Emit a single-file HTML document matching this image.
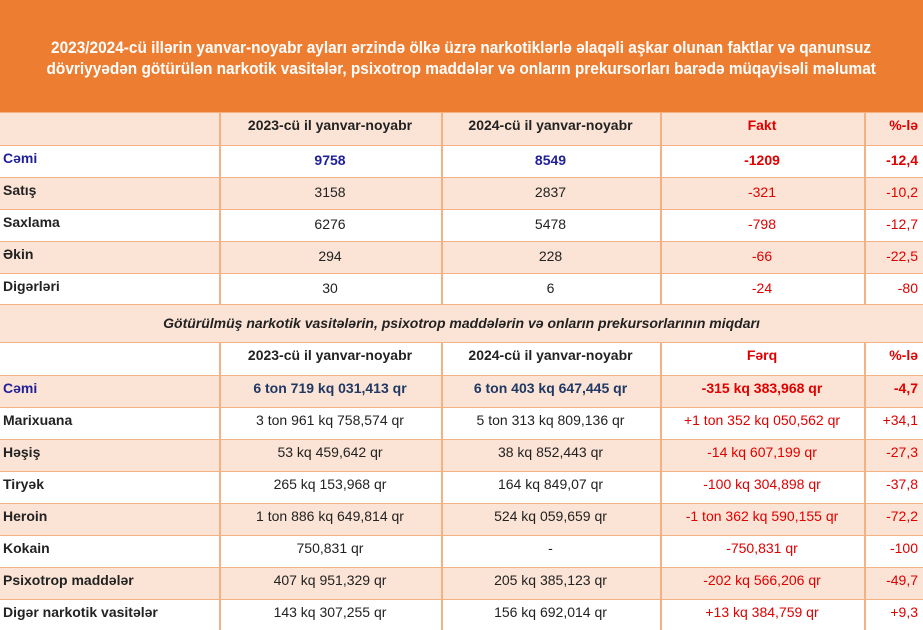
<!DOCTYPE html>
<html><head><meta charset="utf-8"><style>
body{margin:0;width:923px;height:630px;overflow:hidden;background:#fff;font-family:"Liberation Sans",Arial,sans-serif;position:relative}
.top{position:absolute;left:0;top:0;width:923px;height:112px;background:#ed7d31}
.title{position:absolute;left:0;top:37px;width:923px;text-align:center;color:#fff;font-weight:bold;font-size:17px;line-height:21px}
.title span{display:inline-block;transform:scaleX(0.905);white-space:nowrap}
.row{position:absolute;left:0;width:923px;border-top:1.5px solid #f4b183;box-sizing:border-box}
.pe{background:#fbe4d5}
.c{position:absolute;top:0;height:100%;font-size:14px;color:#222;white-space:nowrap;box-sizing:border-box}
.vl{position:absolute;top:0;width:1.5px;background:#f4b183}
.b{font-weight:bold}
.red{color:#e00000}
.blue{color:#1f1f9a}
.navy{color:#1f3864}
</style></head><body>
<div class="top"></div>
<div class="title"><span>2023/2024-cü illərin yanvar-noyabr ayları ərzində ölkə üzrə narkotiklərlə əlaqəli aşkar olunan faktlar və qanunsuz</span><br><span>dövriyyədən götürülən narkotik vasitələr, psixotrop maddələr və onların prekursorları barədə müqayisəli məlumat</span></div>
<div id="t"></div>
<script>
const rows=[
[112,33,1,["",""],["2023-cü il yanvar-noyabr","b"],["2024-cü il yanvar-noyabr","b"],["Fakt","b red"],["%-lə","b red"],4],
[145,32,0,["Cəmi","b blue"],["9758","b blue"],["8549","b blue"],["-1209","b red"],["-12,4","b red"],6],
[177,32,1,["Satış","b"],["3158",""],["2837",""],["-321","red"],["-10,2","red"],6],
[209,32,0,["Saxlama","b"],["6276",""],["5478",""],["-798","red"],["-12,7","red"],6],
[241,32,1,["Əkin","b"],["294",""],["228",""],["-66","red"],["-22,5","red"],6],
[273,31,0,["Digərləri","b"],["30",""],["6",""],["-24","red"],["-80","red"],6],
[342,33,0,["",""],["2023-cü il yanvar-noyabr","b"],["2024-cü il yanvar-noyabr","b"],["Fərq","b red"],["%-lə","b red"],4],
[375,32,1,["Cəmi","b blue"],["6 ton 719 kq 031,413 qr","b navy"],["6 ton 403 kq 647,445 qr","b navy"],["-315 kq 383,968 qr","b red"],["-4,7","b red"],4],
[407,32,0,["Marixuana","b"],["3 ton 961 kq 758,574 qr",""],["5 ton 313 kq 809,136 qr",""],["+1 ton 352 kq 050,562 qr","red"],["+34,1","red"],4],
[439,32,1,["Həşiş","b"],["53 kq 459,642 qr",""],["38 kq 852,443 qr",""],["-14 kq 607,199 qr","red"],["-27,3","red"],4],
[471,32,0,["Tiryək","b"],["265 kq 153,968 qr",""],["164 kq 849,07 qr",""],["-100 kq 304,898 qr","red"],["-37,8","red"],4],
[503,32,1,["Heroin","b"],["1 ton 886 kq 649,814 qr",""],["524 kq 059,659 qr",""],["-1 ton 362 kq 590,155 qr","red"],["-72,2","red"],4],
[535,32,0,["Kokain","b"],["750,831 qr",""],["-",""],["-750,831 qr","red"],["-100","red"],4],
[567,32,1,["Psixotrop maddələr","b"],["407 kq 951,329 qr",""],["205 kq 385,123 qr",""],["-202 kq 566,206 qr","red"],["-49,7","red"],4],
[599,31,0,["Digər narkotik vasitələr","b"],["143 kq 307,255 qr",""],["156 kq 692,014 qr",""],["+13 kq 384,759 qr","red"],["+9,3","red"],4]];
let h="";
const cols=[[0,219,"left"],[219,222,"center"],[441,219,"center"],[660,204,"center"],[864,59,"right"]];
for(const r of rows){
 h+=`<div class="row ${r[2]?'pe':''}" style="top:${r[0]}px;height:${r[1]}px">`;
 for(let i=0;i<5;i++){const [x,w,a]=cols[i];const d=r[3+i];
  const pt=(i==0?4:r[8]);
  h+=`<div class="c ${d[1]}" style="left:${x}px;width:${w}px;text-align:${a};padding:${pt}px ${i==4?5:0}px 0 ${i==0?3:0}px">${d[0]}</div>`;
  if(i>0)h+=`<div class="vl" style="left:${x}px;height:100%"></div>`;}
 h+=`</div>`;}
h+=`<div class="row pe" style="top:304px;height:38px"><div class="c b" style="left:0;width:923px;text-align:center;font-style:italic;padding-top:10px;font-size:14px">Götürülmüş narkotik vasitələrin, psixotrop maddələrin və onların prekursorlarının miqdarı</div></div>`;
document.getElementById("t").innerHTML=h;
</script>
</body></html>
